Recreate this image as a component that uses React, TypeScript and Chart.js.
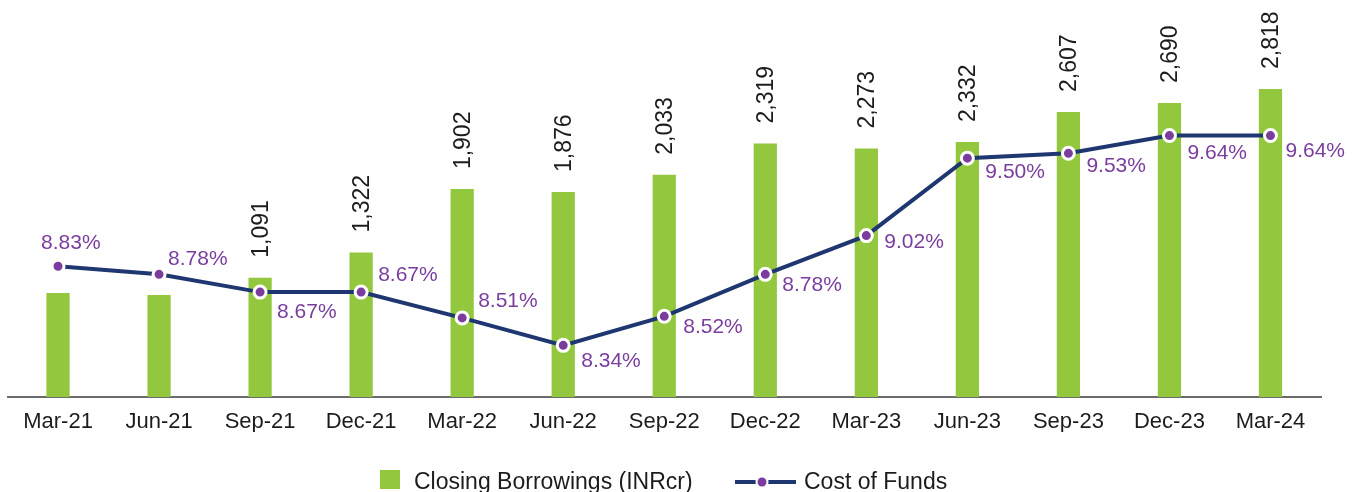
import React, { useEffect, useRef } from "react";
import { Chart, registerables } from "chart.js";

Chart.register(...registerables);

const quarters = [
  "Mar-21", "Jun-21", "Sep-21", "Dec-21", "Mar-22", "Jun-22", "Sep-22",
  "Dec-22", "Mar-23", "Jun-23", "Sep-23", "Dec-23", "Mar-24",
];
const closingBorrowings = [951, 933, 1091, 1322, 1902, 1876, 2033, 2319, 2273, 2332, 2607, 2690, 2818];
const borrowingLabels = ["", "", "1,091", "1,322", "1,902", "1,876", "2,033", "2,319", "2,273", "2,332", "2,607", "2,690", "2,818"];
const costOfFunds = [8.83, 8.78, 8.67, 8.67, 8.51, 8.34, 8.52, 8.78, 9.02, 9.5, 9.53, 9.64, 9.64];
const costLabels = ["8.83%", "8.78%", "8.67%", "8.67%", "8.51%", "8.34%", "8.52%", "8.78%", "9.02%", "9.50%", "9.53%", "9.64%", "9.64%"];

// label offsets (text left edge dx, text centre dy) relative to each point
const costLabelOffsets: [number, number][] = [
  [-17, -23], [9, -15], [17, 20], [17, -17], [16, -17], [18, 16], [19, 11],
  [17, 11], [18, 7], [18, 14], [18, 13], [18, 18], [15, 16],
];

const GREEN = "#93c73d";
const NAVY = "#1f3770";
const PURPLE = "#7a3d9e";
const FONT = "'Liberation Sans', Arial, Helvetica, sans-serif";

const labelsPlugin = {
  id: "customLabels",
  afterDatasetsDraw(chart: any) {
    const ctx = chart.ctx;
    const barMeta = chart.getDatasetMeta(1);
    const lineMeta = chart.getDatasetMeta(0);
    ctx.save();
    ctx.font = `23px ${FONT}`;
    ctx.fillStyle = "#1c1c1c";
    ctx.textAlign = "left";
    ctx.textBaseline = "alphabetic";
    barMeta.data.forEach((bar: any, i: number) => {
      const t = borrowingLabels[i];
      if (!t) return;
      ctx.save();
      ctx.translate(bar.x + 8, bar.y - 20);
      ctx.rotate(-Math.PI / 2);
      ctx.fillText(t, 0, 0);
      ctx.restore();
    });
    ctx.font = `21px ${FONT}`;
    ctx.fillStyle = PURPLE;
    ctx.textBaseline = "middle";
    lineMeta.data.forEach((pt: any, i: number) => {
      const [dx, dy] = costLabelOffsets[i];
      ctx.fillText(costLabels[i], pt.x + dx, pt.y + dy);
    });
    ctx.restore();
  },
  afterDraw(chart: any) {
    const ctx = chart.ctx;
    ctx.save();
    const cy = 481;
    ctx.fillStyle = GREEN;
    ctx.fillRect(380, 470, 20, 19);
    ctx.font = `23px ${FONT}`;
    ctx.fillStyle = "#1c1c1c";
    ctx.textAlign = "left";
    ctx.textBaseline = "alphabetic";
    ctx.fillText(chart.data.datasets[1].label, 414, 489);
    ctx.strokeStyle = NAVY;
    ctx.lineWidth = 4;
    ctx.beginPath();
    ctx.moveTo(735, cy + 1);
    ctx.lineTo(796, cy + 1);
    ctx.stroke();
    ctx.fillStyle = "#ffffff";
    ctx.beginPath();
    ctx.arc(762, cy + 1, 6.5, 0, Math.PI * 2);
    ctx.fill();
    ctx.fillStyle = PURPLE;
    ctx.beginPath();
    ctx.arc(762, cy + 1, 4.5, 0, Math.PI * 2);
    ctx.fill();
    ctx.fillStyle = "#1c1c1c";
    ctx.fillText(chart.data.datasets[0].label, 804, 489);
    ctx.restore();
  },
};

export default function App() {
  const ref = useRef<HTMLCanvasElement>(null);
  useEffect(() => {
    document.body.style.margin = "0";
    const canvas = ref.current!;
    const chart = new Chart(canvas, {
      type: "bar",
      data: {
        labels: quarters,
        datasets: [
          {
            type: "line",
            label: "Cost of Funds",
            data: costOfFunds,
            yAxisID: "y2",
            borderColor: NAVY,
            borderWidth: 4,
            pointRadius: 6,
            pointBorderWidth: 3,
            pointBackgroundColor: PURPLE,
            pointBorderColor: "#ffffff",
            tension: 0,
            clip: false,
            order: 0,
          } as any,
          {
            type: "bar",
            label: "Closing Borrowings (INRcr)",
            data: closingBorrowings,
            yAxisID: "y",
            backgroundColor: GREEN,
            barPercentage: 0.23,
            categoryPercentage: 1,
            order: 1,
          },
        ],
      },
      options: {
        animation: false,
        responsive: false,
        maintainAspectRatio: false,
        layout: { autoPadding: false, padding: { left: 7.5, right: 38, top: 0, bottom: 60 } },
        plugins: { legend: { display: false }, tooltip: { enabled: false } },
        scales: {
          x: {
            grid: { display: false, drawTicks: false },
            border: { display: true, color: "#6b6b6b", width: 2 },
            ticks: { font: { size: 22, family: FONT }, color: "#1c1c1c", padding: 12, maxRotation: 0, autoSkip: false },
            afterFit: (scale: any) => { scale.height = 35; },
          },
          y: { display: false, min: 0, max: 3632 },
          y2: { display: false, position: "right", min: 8.02, max: 10.48 },
        },
      },
      plugins: [labelsPlugin],
    } as any);
    return () => chart.destroy();
  }, []);
  return <canvas ref={ref} width={1359} height={492} style={{ display: "block", width: 1359, height: 492 }} />;
}
